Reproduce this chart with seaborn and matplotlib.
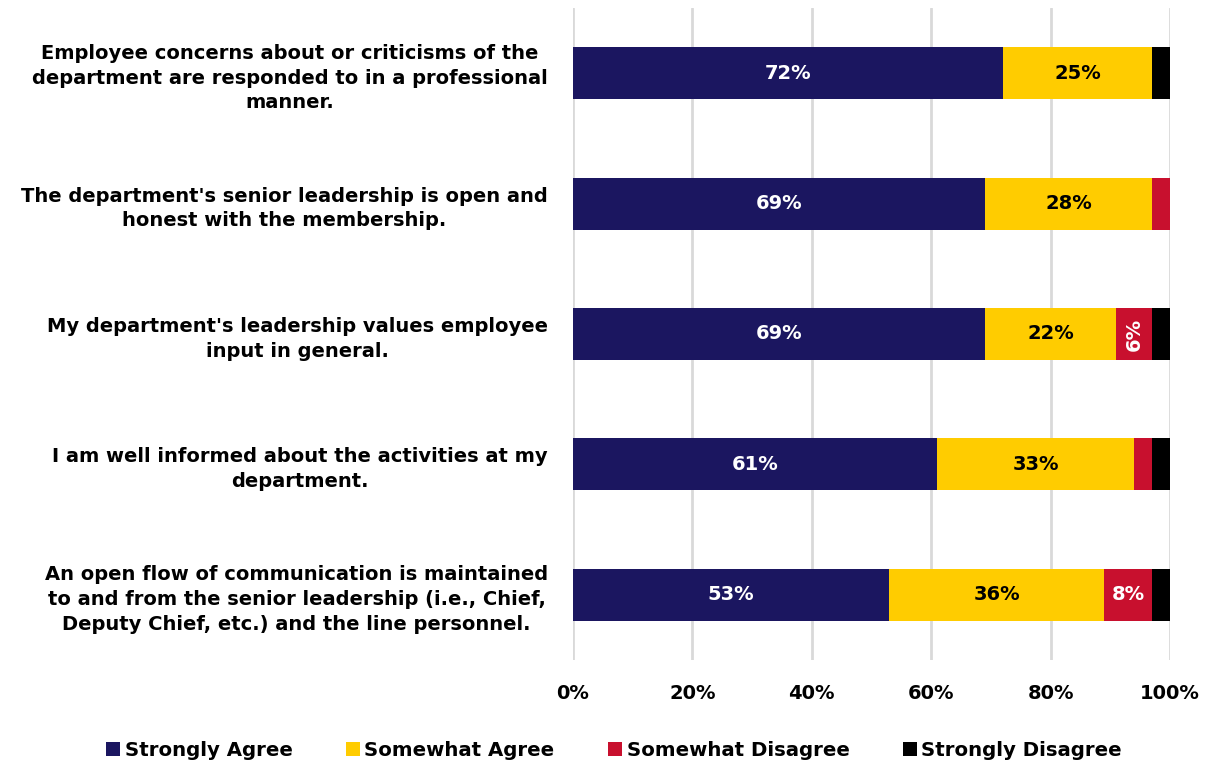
import matplotlib
matplotlib.use("Agg")
import matplotlib.pyplot as plt
import seaborn as sns
import pandas as pd
import numpy as np
from matplotlib.patches import Patch

# Survey statements (top to bottom)
statements = [
    "Employee concerns about or criticisms of the\ndepartment are responded to in a professional\nmanner.",
    "The department's senior leadership is open and\nhonest with the membership.",
    "My department's leadership values employee\ninput in general.",
    "I am well informed about the activities at my\ndepartment.",
    "An open flow of communication is maintained\nto and from the senior leadership (i.e., Chief,\nDeputy Chief, etc.) and the line personnel.",
]

# Response shares in percent
strongly_agree = [72, 69, 69, 61, 53]
somewhat_agree = [25, 28, 22, 33, 36]
somewhat_disagree = [0, 3, 6, 3, 8]
strongly_disagree = [3, 0, 3, 3, 3]

responses = ["Strongly Agree", "Somewhat Agree", "Somewhat Disagree", "Strongly Disagree"]
colors = ["#1B1660", "#FFCC00", "#C8102E", "#000000"]
text_colors = ["white", "black", "white", "white"]

sns.set_theme(style="white")
plt.rcParams["font.family"] = ["DejaVu Sans"]
plt.rcParams["font.weight"] = "bold"
plt.rcParams["text.color"] = "black"
plt.rcParams["xtick.color"] = "black"
plt.rcParams["ytick.color"] = "black"

df = pd.DataFrame({
    "statement": statements,
    responses[0]: strongly_agree,
    responses[1]: somewhat_agree,
    responses[2]: somewhat_disagree,
    responses[3]: strongly_disagree,
})
values = df[responses].to_numpy(dtype=float)
cum = np.cumsum(values, axis=1)

fig = plt.figure(figsize=(12.09, 7.64), dpi=100)
ax = fig.add_axes([573 / 1209, 1 - 660 / 764, (1170 - 573) / 1209, (660 - 8) / 764])

# Stacked bars: draw cumulative totals from the outermost segment inward
for k in range(len(responses) - 1, -1, -1):
    sns.barplot(
        x=cum[:, k], y=df["statement"], orient="h", order=statements,
        color=colors[k], width=0.4, linewidth=0, saturation=1, ax=ax, zorder=3,
    )

# Segment value labels
for i in range(len(statements)):
    left = 0.0
    for k in range(len(responses)):
        v = values[i, k]
        if v >= 5:
            rot = 90 if v < 7 else 0
            ax.text(left + v / 2, i, f"{int(v)}%", ha="center", va="center",
                    color=text_colors[k], fontsize=14, fontweight="bold",
                    rotation=rot, zorder=4)
        left += v

ax.set_xlim(0, 100)
ax.set_ylim(4.5, -0.5)
ax.set_xticks([0, 20, 40, 60, 80, 100])
ax.set_xticklabels([f"{t}%" for t in [0, 20, 40, 60, 80, 100]])
ax.xaxis.grid(True, color="#D9D9D9", linewidth=2, zorder=0)
ax.yaxis.grid(False)
ax.set_axisbelow(True)
for s in ax.spines.values():
    s.set_visible(False)
ax.set_xlabel("")
ax.set_ylabel("")
ax.tick_params(axis="x", length=0, pad=17, labelsize=14, labelcolor="black")
ax.tick_params(axis="y", length=0, pad=18, labelsize=14, labelcolor="black")
for t in ax.get_xticklabels():
    t.set_fontweight("bold")
for t in ax.get_yticklabels():
    t.set_fontweight("bold")
    t.set_multialignment("center")
    t.set_linespacing(1.38)

handles = [Patch(facecolor=c, edgecolor="none") for c in colors]
fig.legend(handles, responses, loc="center", bbox_to_anchor=(614 / 1209, 1 - 750 / 764),
           ncol=4, frameon=False, handlelength=0.7, handleheight=0.7,
           handletextpad=0.25, columnspacing=2.7, labelcolor="black",
           prop={"weight": "bold", "size": 14.2})

fig.savefig("out.png", dpi=100)
